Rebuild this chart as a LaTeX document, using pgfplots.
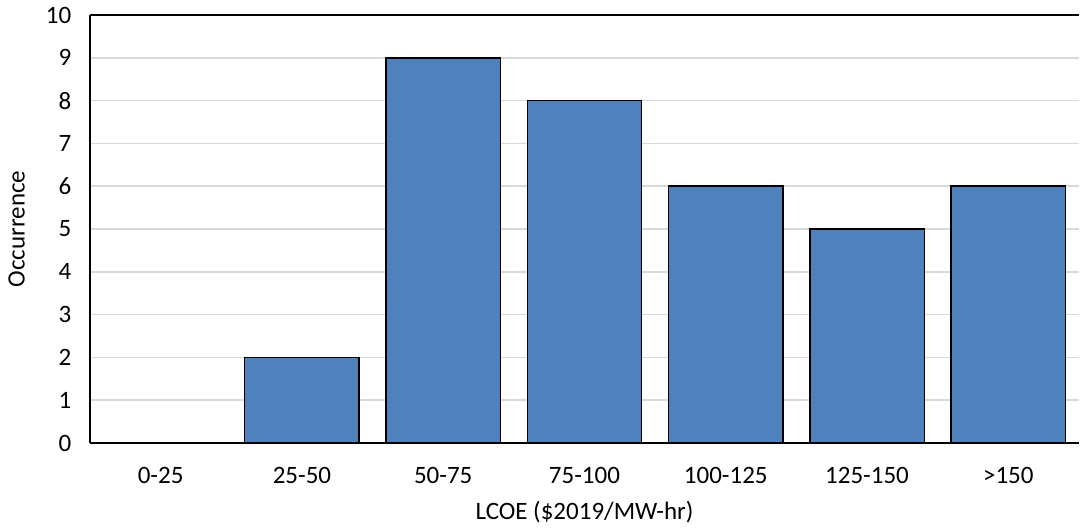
\documentclass[border=0pt]{standalone}
\usepackage{pgfplots}
\pgfplotsset{compat=1.18}
\usepackage{fontspec}
\setmainfont{Carlito}
\definecolor{barblue}{HTML}{4F81BD}
\definecolor{gridgray}{HTML}{D9D9D9}
\begin{document}
\fontsize{12.5}{15}\selectfont
\begin{tikzpicture}
\begin{axis}[
  at={(0,0)}, anchor=south west,
  scale only axis,
  width=494.5pt, height=214pt,
  xmin=-0.5, xmax=6.5, ymin=0, ymax=10,
  axis x line*=bottom,
  axis y line*=left,
  xtick={0,...,6},
  xticklabels={0-25,25-50,50-75,75-100,100-125,125-150,>150},
  ytick={0,...,10},
  ymajorgrids, grid style={gridgray, line width=0.75pt},
  major tick length=0pt,
  xticklabel style={yshift=-8pt},
  yticklabel style={xshift=-5pt},
  /pgf/number format/assume math mode=true,
  ticklabel style={font=\fontsize{12.5}{15}\selectfont},
  label style={font=\fontsize{12.5}{15}\selectfont},
  xlabel={LCOE (\$2019/MW-hr)},
  ylabel={Occurrence},
  xlabel style={yshift=0pt},
  ylabel style={yshift=2pt},
  axis line style={black, line width=1pt},
  clip=false,
]
\addplot[ybar, bar width=0.81, fill=barblue, draw=black, line width=0.75pt]
  coordinates {(0,0) (1,2) (2,9) (3,8) (4,6) (5,5) (6,6)};
\draw[black, line width=1pt] (axis cs:-0.5,10) -- (axis cs:6.5,10);
\end{axis}
\pgfresetboundingbox
\useasboundingbox (-45pt,-43pt) rectangle (497pt,221.5pt);
\end{tikzpicture}
\end{document}
